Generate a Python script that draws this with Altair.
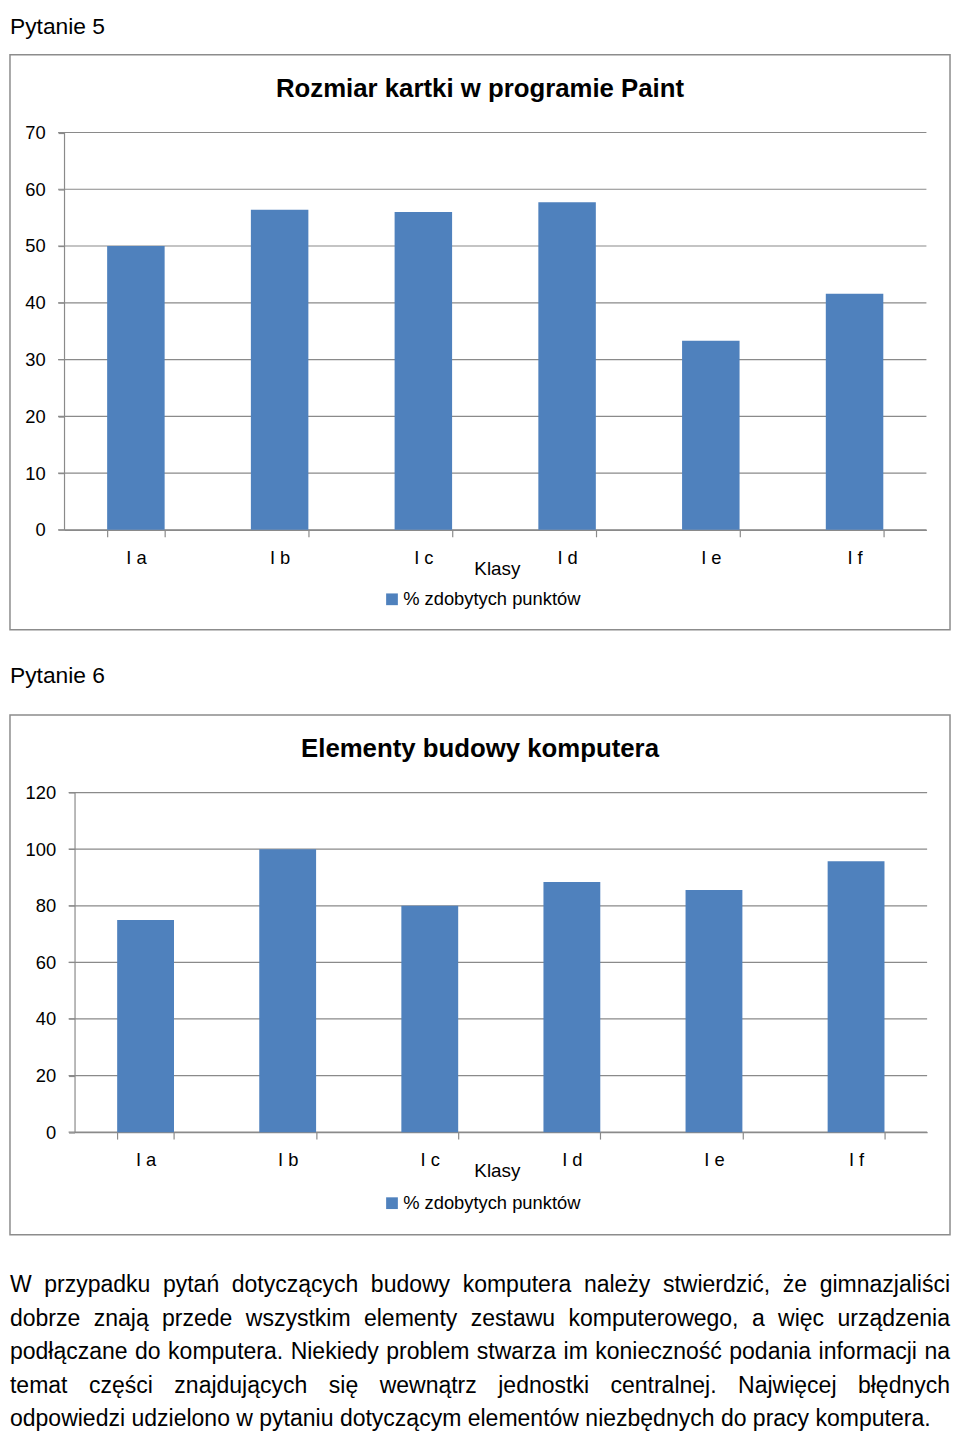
import altair as alt
import pandas as pd

# ---------------- data ----------------
classes = ["I a", "I b", "I c", "I d", "I e", "I f"]
q5_values = [50.0, 56.4, 56.0, 57.7, 33.3, 41.6]
q6_values = [75.0, 100.0, 80.0, 88.4, 85.6, 95.7]
q5_ticks = [0, 10, 20, 30, 40, 50, 60, 70]
q6_ticks = [0, 20, 40, 60, 80, 100, 120]
series_name = "% zdobytych punktów"
x_title = "Klasy"
q5_heading = "Pytanie 5"
q6_heading = "Pytanie 6"
q5_title = "Rozmiar kartki w programie Paint"
q6_title = "Elementy budowy komputera"
paragraph_lines = [
    "W przypadku pytań dotyczących budowy komputera należy stwierdzić, że gimnazjaliści",
    "dobrze znają przede wszystkim elementy zestawu komputerowego, a więc urządzenia",
    "podłączane do komputera. Niekiedy problem stwarza im konieczność podania informacji na",
    "temat części znajdujących się wewnątrz jednostki centralnej. Najwięcej błędnych",
    "odpowiedzi udzielono w pytaniu dotyczącym elementów niezbędnych do pracy komputera.",
]

# ---------------- style ----------------
FONT = "Liberation Sans"
BLUE = "#4F81BD"
GRID = "#8a8a8a"
BOX = "#8c8c8c"
W = 948
PARA_FS = 23.2
PARA_LEAD = 33.8
PARA_TOP = 23

# Liberation Sans (Arial-metric) advance widths, 1/1000 em, used to justify the paragraph
ADV = {
    "a": 556, "b": 556, "c": 500, "d": 556, "e": 556, "f": 278, "g": 556, "h": 556,
    "i": 222, "j": 222, "k": 500, "l": 222, "m": 833, "n": 556, "o": 556, "p": 556,
    "q": 556, "r": 333, "s": 500, "t": 278, "u": 556, "v": 500, "w": 722, "x": 500,
    "y": 500, "z": 500, "ą": 556, "ć": 500, "ę": 556, "ł": 222, "ń": 556, "ó": 556,
    "ś": 500, "ź": 500, "ż": 500, "W": 944, "N": 722, ",": 278, ".": 278, " ": 278,
}


def em(s):
    return sum(ADV.get(ch, 556) for ch in s) / 1000.0


def make_chart(heading, head_offset, title, values, ticks, H, y0, ytop, ax0, ax1, title_y, legend_y):
    df = pd.DataFrame({"klasa": classes, "v": values, "seria": [series_name] * len(classes)})
    grid_df = pd.DataFrame({"v": ticks})
    yscale = alt.Scale(domain=[ticks[0], ticks[-1]], range=[y0, ytop], nice=False)
    xscale = alt.Scale(domain=classes, range=[ax0, ax1], paddingInner=0.6, paddingOuter=0.3)
    yaxis = alt.Axis(
        orient="left", offset=-ax0, values=ticks, tickSize=6, tickColor=GRID,
        tickWidth=1.2, domainColor=GRID, domainWidth=1.2, grid=False,
        labelFont=FONT, labelFontSize=18.5, labelColor="black", labelPadding=13,
        title=None,
    )

    grid = alt.Chart(grid_df).mark_rule(color=GRID, strokeWidth=1.2).encode(
        y=alt.Y("v:Q", scale=yscale, axis=yaxis),
        x=alt.value(ax0 - 6),
        x2=alt.value(ax1),
    )
    bars = alt.Chart(df).mark_bar().encode(
        x=alt.X(
            "klasa:N", sort=classes, scale=xscale,
            axis=alt.Axis(
                orient="bottom", offset=-(H - y0), tickBand="extent", tickSize=7,
                tickColor=GRID, domainColor=GRID, domainWidth=1.2, tickWidth=1.2,
                labelAngle=0, labelFont=FONT, labelFontSize=18.5, labelColor="black",
                labelPadding=12, grid=False,
                title=x_title, titleFont=FONT, titleFontSize=19, titleFontWeight="normal",
                titleColor="black", titleX=491, titleY=39, titleBaseline="middle",
                titleAlign="center",
            ),
        ),
        y=alt.Y("v:Q", scale=yscale, axis=yaxis),
        color=alt.Color(
            "seria:N",
            scale=alt.Scale(domain=[series_name], range=[BLUE]),
            legend=alt.Legend(
                orient="none", legendX=376, legendY=legend_y, title=None,
                symbolType="square", symbolSize=140, symbolStrokeWidth=0,
                labelFont=FONT, labelFontSize=18.5, labelColor="black",
                labelOffset=2, labelLimit=400, padding=0,
            ),
        ),
    )
    ttl = alt.Chart(pd.DataFrame({"t": [title]})).mark_text(
        font=FONT, fontSize=26, fontWeight="bold", color="black",
        align="center", baseline="middle",
    ).encode(text="t:N", x=alt.value(W / 2), y=alt.value(title_y))

    return alt.layer(grid, bars, ttl).properties(
        width=W, height=H,
        title=alt.TitleParams(
            heading, anchor="start", frame="group", font=FONT, fontSize=23,
            fontWeight="normal", color="black", offset=head_offset,
        ),
        view=alt.ViewBackground(stroke=BOX, strokeWidth=1.5, fill="white"),
    )


chart5 = make_chart(q5_heading, 16, q5_title, q5_values, q5_ticks, 580, 479.2, 78.5, 54.5, 924.2, 35, 540)
chart6 = make_chart(q6_heading, 27, q6_title, q6_values, q6_ticks, 524, 420.6, 78.2, 65.1, 924.9, 34, 483)

# ---------------- paragraph (justified like the source) ----------------
rows = []
line_em = W / PARA_FS
for i, line in enumerate(paragraph_lines):
    words = line.split(" ")
    widths = [em(w) for w in words]
    if i < len(paragraph_lines) - 1 and len(words) > 1:
        gap = (line_em - sum(widths)) / (len(words) - 1)
    else:
        gap = em(" ")
    pos = 0.0
    for w, wd in zip(words, widths):
        rows.append({"line": i, "word": w, "pos": pos})
        pos += wd + gap
para_df = pd.DataFrame(rows)

n_lines = len(paragraph_lines)
paragraph = alt.Chart(para_df).mark_text(
    font=FONT, fontSize=PARA_FS, color="black", align="left", baseline="alphabetic",
).encode(
    x=alt.X("pos:Q", scale=alt.Scale(domain=[0, line_em], range=[0, W]), axis=None),
    y=alt.Y(
        "line:Q",
        scale=alt.Scale(domain=[0, n_lines - 1], range=[PARA_TOP, PARA_TOP + (n_lines - 1) * PARA_LEAD]),
        axis=None,
    ),
    text="word:N",
).properties(width=W, height=163)

chart = alt.vconcat(chart5, chart6, paragraph, spacing=34).resolve_scale(
    x="independent", y="independent", color="independent"
).resolve_legend(color="independent").properties(
    padding={"left": 1, "top": 1, "right": 1, "bottom": 1}
).configure(font=FONT).configure_view(strokeWidth=0)

chart.save("out.html", embed_options={"renderer": "svg", "actions": False})
